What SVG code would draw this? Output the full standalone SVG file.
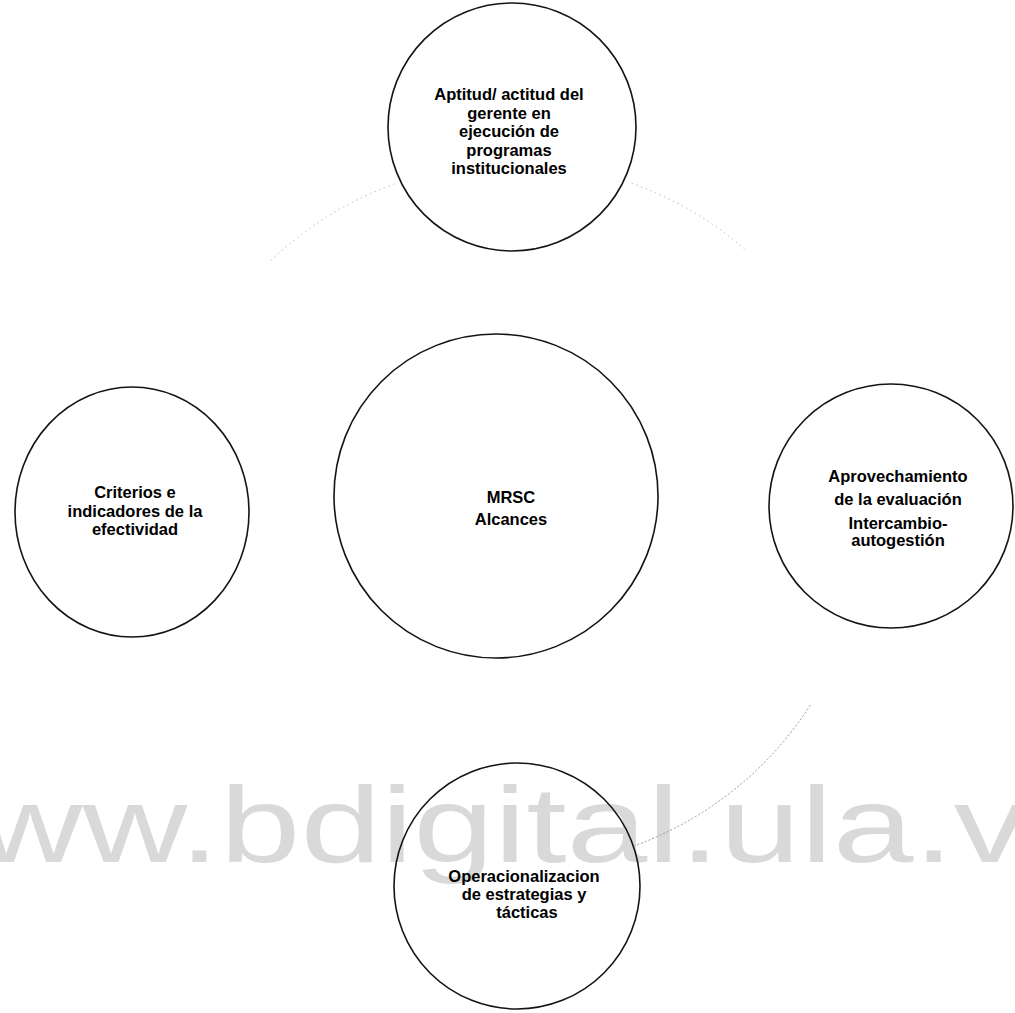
<svg xmlns="http://www.w3.org/2000/svg" width="1015" height="1013" viewBox="0 0 1015 1013">
<style>
.node{fill:none;stroke:#141414;stroke-width:1.6}
.lbl{font-family:"Liberation Sans",Arial,sans-serif;font-size:16.5px;font-weight:bold;fill:#000;text-anchor:middle}
.wm{font-family:"Liberation Sans",Arial,sans-serif;font-size:107.5px;fill:#d9d9d9}
.faint{fill:none;stroke:#b8b8b8;stroke-width:1;stroke-dasharray:1.5 3.5}
.conn{fill:none;stroke:#8a8a8a;stroke-width:0.9}
</style>
<rect width="1015" height="1013" fill="#fff"/>
<text class="wm" transform="translate(-127 862) scale(1.35 1)">www.bdigital.ula.ve</text>
<g id="connectors">
<path class="faint" d="M 270.7 260.6 A 352 352 0 0 1 397.1 183"/>
<path class="faint" d="M 631.5 183.2 A 352 352 0 0 1 744.5 248.9"/>
<path class="conn" stroke-dasharray="2 2" d="M 810.2 705.2 A 352 352 0 0 1 634.4 845.8"/>
</g>
<g id="node-top">
<circle class="node" cx="512" cy="127" r="124"/>
<text class="lbl" x="509" y="100">Aptitud/ actitud del</text>
<text class="lbl" x="509" y="118.5">gerente en</text>
<text class="lbl" x="509" y="137">ejecución de</text>
<text class="lbl" x="509" y="155.5">programas</text>
<text class="lbl" x="509" y="174">institucionales</text>
</g>
<g id="node-left">
<ellipse class="node" cx="132" cy="512" rx="117" ry="125"/>
<text class="lbl" x="135" y="498">Criterios e</text>
<text class="lbl" x="135" y="516.5">indicadores de la</text>
<text class="lbl" x="135" y="535">efectividad</text>
</g>
<g id="node-center">
<circle class="node" cx="496" cy="496" r="162"/>
<text class="lbl" x="511" y="503">MRSC</text>
<text class="lbl" x="511" y="525">Alcances</text>
</g>
<g id="node-right">
<circle class="node" cx="891" cy="506" r="122"/>
<text class="lbl" x="898" y="482">Aprovechamiento</text>
<text class="lbl" x="898" y="505">de la evaluación</text>
<text class="lbl" x="898" y="529">Intercambio-</text>
<text class="lbl" x="898" y="546">autogestión</text>
</g>
<g id="node-bottom">
<circle class="node" cx="517" cy="886" r="123"/>
<text class="lbl" x="524" y="882">Operacionalizacion</text>
<text class="lbl" x="524" y="900">de estrategias y</text>
<text class="lbl" x="527" y="918">tácticas</text>
</g>
</svg>
